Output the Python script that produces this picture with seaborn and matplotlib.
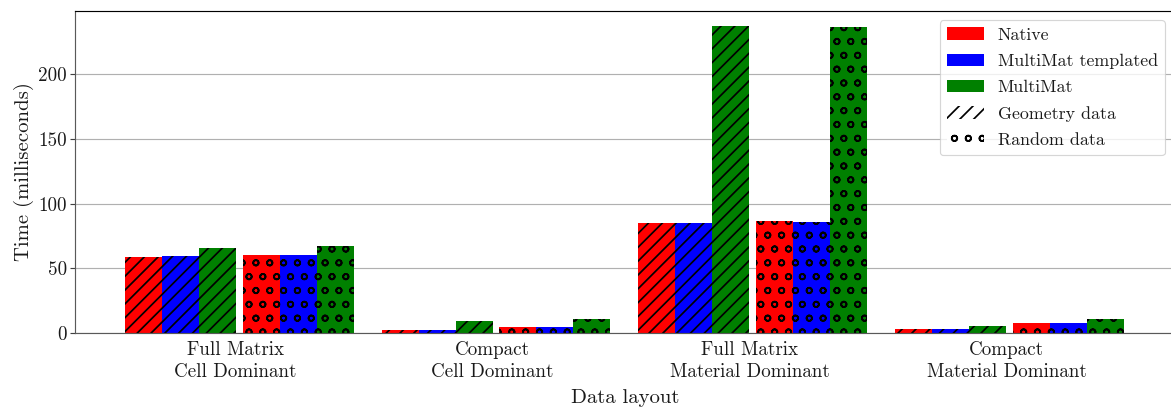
import numpy as np
import pandas as pd
import seaborn as sns
import matplotlib.pyplot as plt
from matplotlib.patches import Patch

# ---- data -------------------------------------------------------------
layouts = ["Full Matrix\nCell Dominant", "Compact\nCell Dominant",
           "Full Matrix\nMaterial Dominant", "Compact\nMaterial Dominant"]
implementations = ["Native", "MultiMat templated", "MultiMat"]
colors = ["red", "blue", "green"]

geometry_native = [58.8, 2.3, 84.9, 3.1]
geometry_templated = [59.6, 2.3, 84.9, 3.1]
geometry_multimat = [65.6, 9.3, 237.1, 5.4]

random_native = [60.2, 4.6, 86.5, 7.7]
random_templated = [60.2, 4.6, 85.7, 7.7]
random_multimat = [67.2, 10.8, 236.3, 10.8]

y_ticks = [0, 50, 100, 150, 200]
y_tick_labels = ["0", "50", "100", "150", "200"]

# ---- style ------------------------------------------------------------
sns.set_style("ticks")
plt.rcParams.update({
    "font.family": ["cmr10", "DejaVu Serif"],
    "mathtext.fontset": "cm",
    "axes.formatter.use_mathtext": True,
    "hatch.linewidth": 1.5,
    "text.color": "0.1",
    "axes.labelcolor": "0.1",
    "xtick.color": "0.25",
    "ytick.color": "0.25",
    "xtick.labelcolor": "0.1",
    "ytick.labelcolor": "0.1",
})

DPI = 83
fig = plt.figure(figsize=(1171 / DPI, 407 / DPI), dpi=DPI)
ax = fig.add_axes([75 / 1171, 74 / 407, 1100 / 1171, 322 / 407])


def long_table(values_by_impl, offset):
    rows = []
    for impl, vals in zip(implementations, values_by_impl):
        for i, v in enumerate(vals):
            rows.append({"pos": i + offset, "impl": impl, "time": v})
    return pd.DataFrame(rows)


geometry = long_table([geometry_native, geometry_templated, geometry_multimat], -0.216)
random_ = long_table([random_native, random_templated, random_multimat], 0.243)

bar_width = 0.432  # three bars of ~0.144 each

n_before = len(ax.patches)
sns.barplot(data=geometry, x="pos", y="time", hue="impl", hue_order=implementations,
            palette=colors, native_scale=True, width=bar_width, dodge=True,
            errorbar=None, saturation=1, legend=False, ax=ax)
geo_patches = ax.patches[n_before:]
n_before = len(ax.patches)
sns.barplot(data=random_, x="pos", y="time", hue="impl", hue_order=implementations,
            palette=colors, native_scale=True, width=bar_width, dodge=True,
            errorbar=None, saturation=1, legend=False, ax=ax)
rnd_patches = ax.patches[n_before:]

for p in geo_patches:
    p.set_edgecolor("black")
    p.set_linewidth(0)
    p.set_hatch("//")
for p in rnd_patches:
    p.set_edgecolor("black")
    p.set_linewidth(0)
    p.set_hatch("o")

# ---- axes -------------------------------------------------------------
ax.set_xlim(-0.625, 3.656)
ax.set_ylim(0, 249)
ax.set_xticks(range(len(layouts)))
ax.set_xticklabels(layouts, fontsize=16.5, linespacing=1.3)
ax.set_yticks(y_ticks)
ax.set_yticklabels(y_tick_labels, fontsize=16.5)
ax.tick_params(axis="x", length=0, pad=7)
ax.tick_params(axis="y", length=4, width=1, pad=3)
ax.yaxis.grid(True, color="#b0b0b0", linewidth=1.0)
ax.xaxis.grid(False)
ax.set_axisbelow(True)

ax.set_xlabel("Data layout", fontsize=18, labelpad=7)
ax.set_ylabel("Time (milliseconds)", fontsize=18, labelpad=4)

for side in ["left", "bottom"]:
    ax.spines[side].set_color("0.35")
    ax.spines[side].set_linewidth(1.0)
ax.spines["top"].set_visible(True)
ax.spines["top"].set_color("black")
ax.spines["top"].set_linewidth(1.0)
ax.spines["right"].set_visible(False)

# ---- legend -----------------------------------------------------------
handles = [Patch(facecolor=c, edgecolor="none", label=l) for c, l in zip(colors, implementations)]
handles.append(Patch(facecolor="white", edgecolor="black", linewidth=0, hatch="//", label="Geometry data"))
handles.append(Patch(facecolor="white", edgecolor="black", linewidth=0, hatch="o", label="Random data"))
ax.legend(handles=handles, loc="upper right", bbox_to_anchor=(1165 / 1171, 1 - 20 / 407),
          bbox_transform=fig.transFigure, borderaxespad=0, fontsize=15.5,
          frameon=True, fancybox=True, framealpha=0.8, edgecolor="0.8",
          labelspacing=0.6, handlelength=2.1, handletextpad=0.75)

fig.savefig("out.png", dpi=DPI)
